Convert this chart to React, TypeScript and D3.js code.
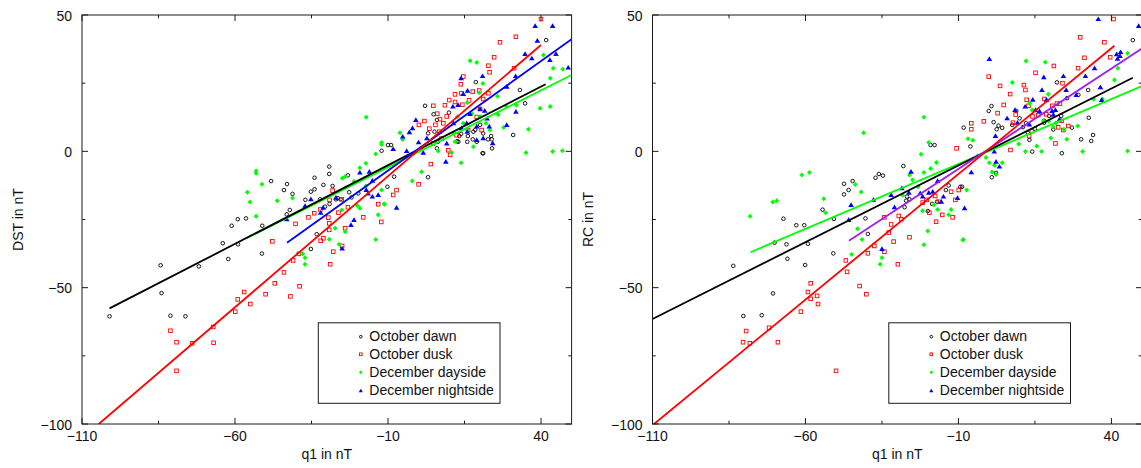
import React from "react";
import * as d3 from "d3";

// ---------------- data ----------------
const X_DOMAIN: [number, number] = [-110, 50];
const Y_DOMAIN: [number, number] = [-100, 50];
const X_TICKS = [-110, -85, -60, -35, -10, 15, 40];
const X_TICK_LABELS = [-110, -60, -10, 40];
const Y_TICKS = [-100, -75, -50, -25, 0, 25, 50];
const Y_TICK_LABELS = [-100, -50, 0, 50];
const SERIES_NAMES = ["October dawn", "October dusk", "December dayside", "December nightside"];
const X_LABEL = "q1 in nT";
const Y_LABEL_LEFT = "DST in nT";
const Y_LABEL_RIGHT = "RC in nT";

// Left panel (DST)
const dstDawn: [number, number][] = [
  [-101, -60.5], [-84.3, -41.8], [-84, -52], [-81.1, -60.3], [-76.2, -60.5], [-71.8, -42.2], [-64, -33.7], [-62.2, -39.5],
  [-61.1, -27.3], [-59.1, -24.9], [-59, -34.1], [-56.4, -24.6], [-51.1, -27.3], [-51.2, -37.5], [-48.2, -10.9], [-44, -14.2],
  [-43, -12], [-42.1, -21.5], [-43.1, -23.1], [-41.2, -15.6], [-37, -17.8], [-35.2, -14.8], [-34, -13.9], [-34, -9.7],
  [-32.2, -17.6], [-31.1, -12.3], [-29.2, -5.6], [-29.2, -8.3], [-29.1, -19.3], [-30.6, -20.3], [-33.3, -30.4], [-35.2, -35.8],
  [-28.1, -12.7], [-27, -17.6], [-26.4, -17.2], [-25.5, -17.6], [-23.1, -8.8], [-22.7, -15], [-21.9, -16.9], [-19.7, -15.4],
  [-12.1, 0.2], [-10, 2.3], [-9, 2.3], [-8, -9.3], [-10.2, -13], [2.1, 16.7], [9.9, 14.2], [4.9, 13.6], [6, 11.5], [3.1, 6.6],
  [5.2, 7.2], [6, 1.1], [6.3, 3.5], [0.8, 1.1], [3.1, -9.5], [12.6, 3.7], [13, 3.5], [13.9, 6.4], [15.9, 3.5], [17.7, 4.4],
  [13.3, 5.6], [16.1, 5.6], [17.9, 7.2], [20.1, 9.7], [18.5, 7.9], [19, 3.5], [21.1, 6.6], [21.1, -0.7], [22.7, 4.4],
  [23.7, 5.6], [23.9, 4.4], [24, 1.1], [30.9, 6], [33.1, 22.5], [34.8, 17.6], [41.7, 40.8], [18.7, 25.4], [20.9, -0.7],
];
const dstDusk: [number, number][] = [
  [-81.1, -65.8], [-79.1, -70], [-79.1, -80.5], [-74, -70.4], [-67.1, -64.4], [-67, -70.2], [-59.9, -58.8], [-59.1, -54.3],
  [-57, -51.6], [-55, -56], [-50, -52.4], [-47, -48.4], [-44, -44.4], [-41.9, -53.2], [-38.9, -49.5], [-41, -40], [-39.1, -37.6],
  [-28.9, -41.4], [-27.9, -36.8], [-25, -34.7], [-47.8, -33], [-32, -32.8], [-40.2, -26.6], [-36, -24.2], [-34.1, -22.7],
  [-32.1, -21.3], [-31.1, -31.9], [-29.5, -24.3], [-29.2, -26.4], [-29.2, -28.8], [-29.1, -17.8], [-28.1, -14.4], [-26.2, -22.5],
  [-25.1, -17.6], [-24, -28.2], [-23.1, -20.5], [-18.1, -24.2], [-13.2, -19.4], [-12.2, -25.9], [-7.2, -14.2], [-8.3, -16],
  [0, -12.1], [4, -4.7], [0.1, 9.7], [1.9, 11.1], [4.8, 16.7], [6.1, 13.8], [7, 11.8], [5.5, 9.7], [8.1, 10.3], [9.2, 12.8],
  [8.6, 16.9], [10, 18.8], [11.9, 20.9], [14, 21.3], [11.9, 18.1], [14.3, 17.1], [16.5, 18.7], [17.7, 21.9], [20.1, 15.5],
  [21.1, 19.2], [22.8, 21.3], [4.8, 2.9], [7.5, 4.7], [9.7, 0.4], [12.4, 5.9], [16.2, 7.8], [19, 12.6], [20.6, 7.8], [10.3, -1.3],
  [3.5, 8.3], [6.8, 7.2], [40, 48.5], [31.8, 42], [26.6, 40], [24.7, 34.5], [22.8, 31.4], [23.2, 29], [14.6, 27.4], [13.8, 24.6],
  [19.8, 22.3], [31.2, 30.5],
];
const dstDay: [number, number][] = [
  [-56, -15], [-55.1, -18.6], [-53.1, -8], [-53.1, -7.2], [-51.2, -12.1], [-46.2, -18.1], [-53.1, -23.8], [-41.2, -17.1],
  [-37.9, -37.6], [-37.1, -39], [-37.1, -41.4], [-29.2, -32.2], [-27.3, -28.2], [-26, -34.1], [-25.1, -21.5], [-24, -29.5],
  [-24.9, -9.9], [-24, -9.2], [-21.1, -11.1], [-20, -20], [-19.2, -20.9], [-19.2, -6], [-17.2, -4.4], [-17.1, 12.5], [-14, -1],
  [-12.1, 3.2], [-11.3, -19.3], [-13.2, -23.3], [-14, -32.3], [-17.2, -12.7], [-6.1, 6.8], [-12.1, 2.5], [-5.2, 4.3], [1, -7.5],
  [-2.1, -10.9], [-11.1, -19.4], [-12.1, -14.2], [6.4, 0.1], [10.8, -0.4], [13.9, -4.2], [17.9, 1.7], [11.9, 3.5], [11.4, 6.6],
  [12.7, 12.7], [14.6, 10.3], [15.9, 7.8], [17.4, 13.9], [19.8, 21.5], [21, 24.9], [15.9, 17.8], [20.1, 12.8], [22, 10.3],
  [23.3, 7.8], [25.8, 20.2], [26, 13.5], [27.8, 8.7], [28.7, 16.4], [32, 17], [35.1, -0.5], [35.9, 8.1], [16.8, 33.2], [19, 32.6],
  [44, 30.5], [47.1, 30.1], [40.8, 35.3], [43, 26.8], [43, 16.4], [39.7, 15.8], [43.8, -0.1], [47, 0.2],
];
const dstNight: [number, number][] = [
  [-43.1, -24.9], [-37.1, -20], [-35.2, -17.6], [-32, -22.5], [-31.2, -20.7], [-27, -17], [-25, -35.6], [-22.1, -27],
  [-21.1, -25.2], [-19.2, -7.8], [-16.1, -7.5], [-17.1, -14.2], [-16.5, -15.5], [-15.1, -16.6], [-13.2, -16], [-15.1, -10.8],
  [-5.2, 5.4], [-3, 7], [-0.9, 11.5], [-2, 8.5], [-8.3, 0.9], [-3.9, 0.1], [0, 3.3], [1.5, -0.5], [-7.2, -20.7], [8.9, -3.8],
  [14.6, 21], [12.9, 17], [14, 8.5], [15.7, 10.3], [16.8, 13.7], [19, 9.1], [20.1, 15.5], [21.6, 14.9], [22.4, 12], [23.1, 9.1],
  [24.2, 3], [21.1, 4.8], [28.8, 23.7], [31.8, 14.5], [28.8, 9.7], [19, 4.2], [15.9, 7.2], [11.4, 10.3], [11.2, 16.4], [9.2, 2.9],
  [2.7, 4.8], [38.1, 46], [43.8, 46], [38.8, 40.6], [34.8, 35.7], [37, 34.1], [42.9, 33.5], [44.9, 35.7], [48.9, 30.7],
  [31.7, 27.6], [20.9, 27.6], [13.9, 26.8], [16, 22.2],
];
// fitted lines: [start, end]
const dstFitDawn: [number, number][] = [[-101, -57.6], [41.5, 24.6]];
const dstFitDusk: [number, number][] = [[-104.5, -100], [40, 39]];
const dstFitDay: [number, number][] = [[-56.2, -31.9], [50, 28]];
const dstFitNight: [number, number][] = [[-43, -33.5], [50, 41.1]];

// Right panel (RC)
const rcDawn: [number, number][] = [
  [-83.6, -42], [-80.3, -60.4], [-74.3, -60.1], [-70.6, -52.1], [-70.1, -33.5], [-67.2, -24.7], [-66.2, -34.1], [-65.9, -39.4],
  [-63, -27.1], [-60.4, -27.1], [-60.1, -41.7], [-59.2, -33.9], [-54.4, -21.4], [-50.7, -24.8], [-50.9, -37.4], [-47.4, -11.9],
  [-45.9, -14.2], [-44.6, -10.9], [-47.4, -15.8], [-40.4, -24.6], [-39.6, -30.3], [-37.1, -9.7], [-36, -8.3], [-34.7, -8.9],
  [-28, -5.4], [-26.8, -16.6], [-26, -17.6], [-27.1, -18.1], [-27.6, -20.5], [-20, -21.9], [-18.6, -19.3], [-17, -18.5],
  [-19.1, 2.3], [-17.8, 2.3], [-13.2, -12.5], [-9.4, -13], [-8.8, -13], [-14.1, -14.2], [-8.3, 8.7], [-6.1, 1.8], [-0.1, 14.8],
  [0.8, 16.6], [1.5, 10.7], [3.1, 9.4], [2.5, 8.1], [4.3, 8.6], [0.9, -9.5], [2.3, -7.9], [8.9, 14.8], [10, 12.1], [7.6, 9.7],
  [11.1, 8.9], [12.1, 10.3], [12.7, 6.8], [13.2, 4.2], [14.1, -0.1], [15, 8.3], [18, 11.2], [22.2, 25.3], [23.8, -0.7],
  [23.6, 13], [25.5, 19.5], [27.1, 8.7], [29.2, 20.7], [32.4, 22.5], [32.6, 12.3], [30.1, 4.4], [33.4, 3.8], [34, 6],
  [47, 40.8], [19.6, 13], [18, 10.5], [21, 8],
];
const rcDusk: [number, number][] = [
  [-80.4, -70], [-79.4, -65.9], [-78.2, -70.4], [-71.9, -64.7], [-69, -70], [-61.5, -58.8], [-59.2, -51.6], [-58.3, -48.4],
  [-58.3, -54.1], [-56.2, -53], [-55.9, -56], [-50, -80.5], [-46.8, -40], [-46.4, -44.2], [-42.3, -49.4], [-40.1, -52.4],
  [-39.6, -37.4], [-37.5, -34.7], [-34.2, -36.8], [-31.2, -33.1], [-29.8, -41.4], [-32.8, -29.8], [-34.2, -24.2], [-32, -26.8],
  [-29.5, -23.7], [-28.7, -24.9], [-26, -31.5], [-21.7, -18.8], [-20.4, -17.8], [-19.5, -22.5], [-17.6, -16.4], [-17.3, -25.8],
  [-16.4, -18.5], [-15.3, -23.3], [-12.4, -14.8], [-11.9, -24.2], [-11, -17.8], [-9.9, -14.2], [-10.6, 1.1], [-5.8, 10.3],
  [-5.8, 8.1], [-1.7, 11], [-0.1, 27.4], [3.6, 24], [2.8, 14], [4.8, 17], [6.9, 21], [7, 0.5], [7.8, 10.5], [8.7, 13.5],
  [11.4, 24.3], [11.9, 22.5], [12.3, 18.9], [12.9, 16.7], [14.2, 12.8], [15.2, 28.8], [14, 7.4], [13.1, 5.6], [16.1, 13.3],
  [18.1, 19.2], [18.7, 13.6], [20.7, 16.7], [21.2, 31.3], [22.2, 17.5], [23.2, 17.5], [23.7, 11.2], [24, 25], [24.3, 7.8],
  [21.7, 2.9], [22.6, 8.8], [25.9, 9.3], [29.1, 30.5], [29.8, 41.8], [31.2, 34.3], [37.7, 40], [39.6, 34.5], [40.7, 48.5],
];
const rcDay: [number, number][] = [
  [-78.1, -23.8], [-70.7, -18.6], [-69.4, -18.1], [-61.2, -8.7], [-58.7, -7.8], [-54, -17.4], [-53.4, -22.5], [-43.7, -12.2],
  [-41.8, -14.9], [-41, 6.8], [-44.9, -37.8], [-43, -28.4], [-41.5, -32.3], [-35, -39], [-35.6, -41.4], [-21.3, -34.3],
  [-21.3, 12.5], [-19.7, 3.2], [-22.2, -1.1], [-26, -8.7], [-25, -10.5], [-21.3, -7.8], [-19.1, -6.3], [-17.2, -4.1],
  [-23.2, -13], [-28.2, -16.1], [-21.7, -21.8], [-18, -19.6], [-20, -29.2], [-16.8, -21.3], [-13.2, -23.3], [-12.4, -21.3],
  [-7.3, -14.2], [-8.4, -32.3], [-6.9, 4.6], [-5.3, 4.1], [-3.7, -1.7], [-1, -2.3], [0.1, -4.2], [1, -7.6], [2.3, -8.5],
  [4.3, -4.2], [1.8, -5.1], [7.6, 25.2], [9.7, 2.7], [11.9, -0.1], [12.1, 33.1], [13.3, 17.6], [15.6, 2], [14.1, 15.2],
  [18.4, 32.7], [17.2, -0.1], [17.8, 11], [19.4, 20.9], [19.5, 11], [20.2, 4.9], [21, 8.9], [21.8, 10.4], [24.5, 8], [25.4, 4.4],
  [29, 9.3], [30.6, -0.1], [34.2, 19.1], [37.1, 19.1], [41, 26.2], [42.1, 30.5], [45.3, 36], [45.3, 0.1], [-8.6, -32.5],
];
const rcNight: [number, number][] = [
  [-45.1, -19.7], [-45.9, -25.2], [-37.8, -17.8], [-35, -35.8], [-32, -16], [-30.9, -20.5], [-28.5, -13.5], [-25.5, -7.5],
  [-26.2, -15.2], [-22.5, -15.4], [-21.7, -16.6], [-19.7, -15.2], [-18.4, -14.8], [-16.8, -10.9], [-14.9, -16.6], [-15.6, -18.5],
  [-10.3, -17.1], [-8, -20.9], [-5.8, -7.7], [0.1, 33.9], [1.7, -0.1], [2.1, 5.6], [2.3, -3.8], [3.4, -5.6], [5.9, 12.1],
  [8.5, 15.2], [9.3, 10.5], [11.8, 16.4], [14.3, 18.9], [13.2, 9.8], [15.2, 15.2], [16.5, 14.7], [17.3, 22.5], [17.9, 27.2],
  [18.8, 18.9], [20.6, 14.8], [21, 13.4], [21.7, 15.2], [23, 11.7], [24.3, 27.6], [25.2, 22.5], [28.5, 20.7], [31.5, 27.6],
  [34.5, 30.5], [36.4, 23.5], [36.8, 18.8], [41.7, 35.6], [42.8, 35], [42, 34], [43, 36.4], [35.7, 48.5], [48.9, 46],
];
const rcFitDawn: [number, number][] = [[-110, -61.5], [47, 27]];
const rcFitDusk: [number, number][] = [[-109.5, -100], [41, 38.7]];
const rcFitDay: [number, number][] = [[-78, -37], [50, 23.9]];
const rcFitNight: [number, number][] = [[-45.8, -32.8], [50, 37.7]];

// ---------------- styles / layout ----------------
const FONT = "'Liberation Sans', Arial, Helvetica, sans-serif";
const COLORS = { dawn: "#000000", dusk: "#ff0000", day: "#00ff00", night: "#0000ff", nightFit: "#a020f0" };

type Kind = "circle" | "square" | "diamond" | "triangle";

function Marker({ kind, x, y, color, s = 1 }: { kind: Kind; x: number; y: number; color: string; s?: number }) {
  if (kind === "circle")
    return <circle cx={x} cy={y} r={1.8 * s} fill="none" stroke={color} strokeWidth={0.9} />;
  if (kind === "square")
    return <rect x={x - 1.8 * s} y={y - 1.8 * s} width={3.6 * s} height={3.6 * s} fill="none" stroke={color} strokeWidth={0.9} />;
  if (kind === "diamond")
    return <path d={`M${x},${y - 2.5 * s}L${x + 2.5 * s},${y}L${x},${y + 2.5 * s}L${x - 2.5 * s},${y}Z`} fill={color} />;
  return <path d={`M${x},${y - 2.7 * s}L${x + 2.8 * s},${y + 2 * s}L${x - 2.8 * s},${y + 2 * s}Z`} fill={color} />;
}

interface PanelProps {
  id: string;
  left: number;
  right: number;
  top: number;
  bottom: number;
  yLabel: string;
  dawn: [number, number][];
  dusk: [number, number][];
  day: [number, number][];
  night: [number, number][];
  fits: { pts: [number, number][]; color: string }[];
}

function Panel(p: PanelProps) {
  const x = d3.scaleLinear().domain(X_DOMAIN).range([p.left, p.right]);
  const y = d3.scaleLinear().domain(Y_DOMAIN).range([p.bottom, p.top]);
  const fmt = d3.format("d");
  const line = d3.line<[number, number]>().x((d) => x(d[0])).y((d) => y(d[1]));
  const axisColor = "#1a1a1a";
  const series: { data: [number, number][]; kind: Kind; color: string }[] = [
    { data: p.dawn, kind: "circle", color: COLORS.dawn },
    { data: p.dusk, kind: "square", color: COLORS.dusk },
    { data: p.day, kind: "diamond", color: COLORS.day },
    { data: p.night, kind: "triangle", color: COLORS.night },
  ];
  const legX = p.left + 236.3;
  const legY = 322.8;
  const legMarkY = [336.7, 354.3, 372.3, 390.7];
  return (
    <g>
      <defs>
        <clipPath id={p.id}>
          <rect x={p.left} y={p.top} width={p.right - p.left} height={p.bottom - p.top} />
        </clipPath>
      </defs>
      <g clipPath={`url(#${p.id})`}>
        {series.map((s, si) =>
          s.data.map((d, i) => <Marker key={`${si}-${i}`} kind={s.kind} x={x(d[0])} y={y(d[1])} color={s.color} />)
        )}
        {p.fits.map((f, i) => (
          <path key={i} d={line(f.pts) || ""} fill="none" stroke={f.color} strokeWidth={1.8} />
        ))}
      </g>
      {/* frame */}
      <rect x={p.left} y={p.top} width={p.right - p.left} height={p.bottom - p.top} fill="none" stroke={axisColor} strokeWidth={1} />
      {/* x ticks */}
      {X_TICKS.map((t) => {
        const major = X_TICK_LABELS.includes(t);
        const len = major ? 6 : 3.3;
        const xx = x(t);
        return (
          <g key={`xt${t}`}>
            <line x1={xx} x2={xx} y1={p.bottom} y2={p.bottom - len} stroke={axisColor} />
            <line x1={xx} x2={xx} y1={p.top} y2={p.top + len} stroke={axisColor} />
            {major && (
              <text x={xx} y={441} textAnchor="middle" fontSize={14} fontFamily={FONT} fill="#111">
                {fmt(t)}
              </text>
            )}
          </g>
        );
      })}
      {/* y ticks */}
      {Y_TICKS.map((t) => {
        const major = Y_TICK_LABELS.includes(t);
        const len = major ? 6 : 3.3;
        const yy = y(t);
        return (
          <g key={`yt${t}`}>
            <line x1={p.left} x2={p.left + len} y1={yy} y2={yy} stroke={axisColor} />
            <line x1={p.right} x2={p.right - len} y1={yy} y2={yy} stroke={axisColor} />
            {major && (
              <text x={p.left - 10} y={yy + 5.5} textAnchor="end" fontSize={14} fontFamily={FONT} fill="#111">
                {fmt(t)}
              </text>
            )}
          </g>
        );
      })}
      {/* axis labels */}
      <text x={(p.left + p.right) / 2} y={459} textAnchor="middle" fontSize={14} fontFamily={FONT} fill="#111">
        {X_LABEL}
      </text>
      <text
        transform={`translate(${p.left - 59.2},${(p.top + p.bottom) / 2}) rotate(-90)`}
        textAnchor="middle"
        fontSize={14}
        fontFamily={FONT}
        fill="#111"
      >
        {p.yLabel}
      </text>
      {/* legend */}
      <rect x={legX} y={legY} width={181.7} height={80.5} fill="#fff" stroke={axisColor} strokeWidth={1} />
      {SERIES_NAMES.map((name, i) => (
        <g key={name}>
          <Marker kind={series[i].kind} x={legX + 42.5} y={legMarkY[i]} color={series[i].color} s={0.75} />
          <text x={legX + 51} y={legMarkY[i] + 4.4} fontSize={14} fontFamily={FONT} fill="#111">
            {name}
          </text>
        </g>
      ))}
    </g>
  );
}

export default function App() {
  return (
    <svg
      width={1141}
      height={468}
      viewBox="0 0 1141 468"
      style={{ position: "absolute", left: 0, top: 0, background: "#fff", display: "block" }}
    >
      <rect x={0} y={0} width={1141} height={468} fill="#fff" />
      <Panel
        id="clipL"
        left={82}
        right={571.6}
        top={15}
        bottom={424}
        yLabel={Y_LABEL_LEFT}
        dawn={dstDawn}
        dusk={dstDusk}
        day={dstDay}
        night={dstNight}
        fits={[
          { pts: dstFitDay, color: COLORS.day },
          { pts: dstFitDawn, color: COLORS.dawn },
          { pts: dstFitNight, color: COLORS.night },
          { pts: dstFitDusk, color: COLORS.dusk },
        ]}
      />
      <Panel
        id="clipR"
        left={652.5}
        right={1142}
        top={15}
        bottom={424}
        yLabel={Y_LABEL_RIGHT}
        dawn={rcDawn}
        dusk={rcDusk}
        day={rcDay}
        night={rcNight}
        fits={[
          { pts: rcFitDay, color: COLORS.day },
          { pts: rcFitDawn, color: COLORS.dawn },
          { pts: rcFitNight, color: COLORS.nightFit },
          { pts: rcFitDusk, color: COLORS.dusk },
        ]}
      />
    </svg>
  );
}
